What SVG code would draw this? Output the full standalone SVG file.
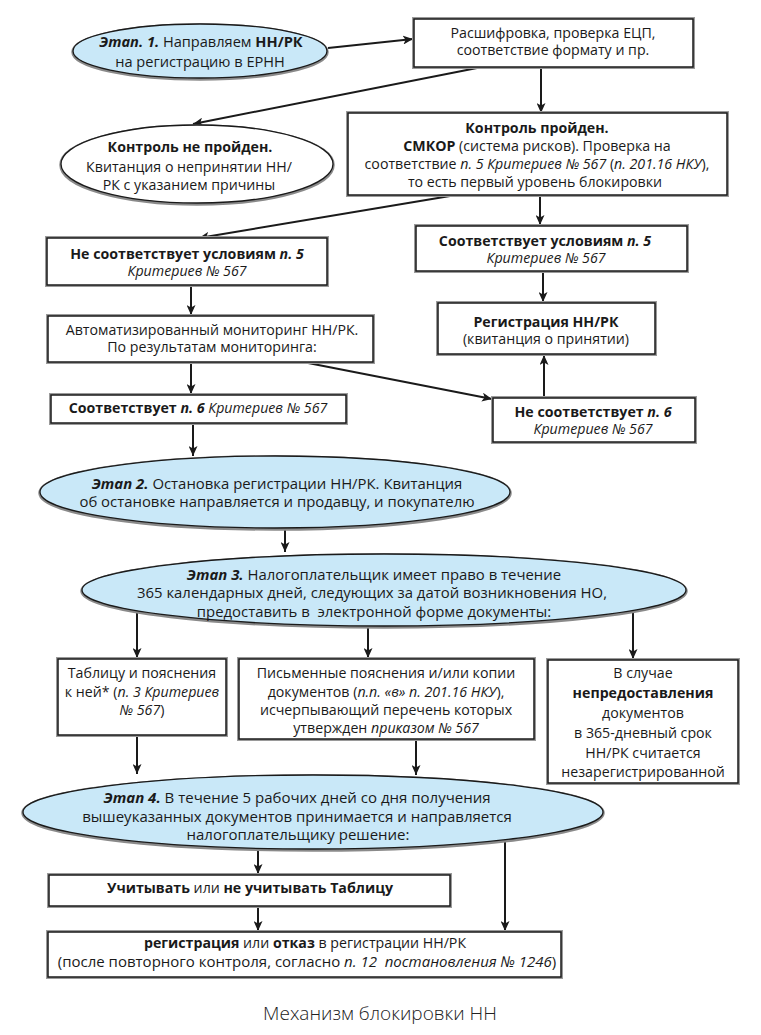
<svg xmlns="http://www.w3.org/2000/svg" width="761" height="1035" viewBox="0 0 761 1035">
<style>
text{font-family:"Open Sans","Noto Sans","DejaVu Sans",sans-serif;font-size:14.2px;fill:#1a1a1a;text-anchor:middle}
.f1{font-size:14.6px}
.f2{font-size:14.9px}
.f3{font-size:15px}
.b{font-weight:bold}
.i{font-style:italic}
.bi{font-weight:bold;font-style:italic}
.bx{fill:#fff;stroke:#1a1a1a;stroke-width:1.5}
.bxs{fill:none;stroke:#9a9a9a;stroke-width:4}
.el{fill:#c9e8f8;stroke:#1a1a1a;stroke-width:1.3}
.elw{fill:#fff;stroke:#1a1a1a;stroke-width:1.3}
.els{fill:none;stroke:#8a8a8a;stroke-width:3.5}
.cn{fill:none;stroke:#1a1a1a;stroke-width:2;marker-end:url(#ah)}
.cap{font-size:19px;font-weight:300;fill:#222}
</style>
<defs>
<marker id="ah" viewBox="0 0 10 9" refX="10" refY="4.5" markerWidth="10" markerHeight="9" orient="auto" markerUnits="userSpaceOnUse">
<path d="M0,0 L10,4.5 L0,9 L2.5,4.5 z" fill="#1a1a1a"/>
</marker>
</defs>
<rect width="761" height="1035" fill="#fff"/>

<g id="connectors">
<line class="cn" x1="328" y1="48" x2="413" y2="39"/>
<line class="cn" x1="541" y1="68" x2="541" y2="113"/>
<line class="cn" x1="477" y1="68" x2="193" y2="124"/>
<line class="cn" x1="450" y1="196" x2="199" y2="238"/>
<line class="cn" x1="540" y1="196" x2="540" y2="225"/>
<line class="cn" x1="543" y1="272" x2="543" y2="302"/>
<line class="cn" x1="544" y1="397" x2="544" y2="355"/>
<line class="cn" x1="191" y1="286" x2="191" y2="315"/>
<line class="cn" x1="303" y1="362" x2="492" y2="399"/>
<line class="cn" x1="191" y1="363" x2="191" y2="394"/>
<line class="cn" x1="193" y1="424" x2="193" y2="456"/>
<line class="cn" x1="285" y1="528" x2="285" y2="552"/>
<line class="cn" x1="137" y1="613" x2="137" y2="658"/>
<line class="cn" x1="368" y1="626" x2="368" y2="658"/>
<line class="cn" x1="633" y1="612" x2="633" y2="659"/>
<line class="cn" x1="137" y1="736" x2="137" y2="774"/>
<line class="cn" x1="416" y1="739" x2="416" y2="775"/>
<line class="cn" x1="258" y1="850" x2="258" y2="874"/>
<line class="cn" x1="258" y1="907" x2="258" y2="931"/>
<line class="cn" x1="505" y1="840" x2="505" y2="931"/>
</g>

<g id="etap1">
<ellipse class="els" cx="200" cy="52" rx="127" ry="27"/>
<ellipse class="el" cx="200" cy="51" rx="127" ry="27"/>
<text class="f1" x="201" y="47"><tspan class="bi">Этап. 1.</tspan> Направляем <tspan class="b">НН/РК</tspan></text>
<text class="f1" x="200" y="67">на регистрацию в ЕРНН</text>
</g>

<g id="decode">
<rect class="bxs" x="414" y="19" width="279" height="48"/>
<rect class="bx" x="414" y="19" width="279" height="48"/>
<text x="553" y="38">Расшифровка, проверка ЕЦП,</text>
<text x="553" y="55">соответствие формату и пр.</text>
</g>

<g id="fail">
<ellipse class="els" cx="197" cy="165" rx="136" ry="39"/>
<ellipse class="elw" cx="197" cy="164" rx="136" ry="39"/>
<text x="190" y="152" class="b">Контроль не пройден.</text>
<text x="189" y="172">Квитанция о непринятии НН/</text>
<text x="189" y="190">РК с указанием причины</text>
</g>

<g id="passed">
<rect class="bxs" x="348" y="113" width="379" height="82"/>
<rect class="bx" x="348" y="113" width="379" height="82"/>
<text x="537" y="133" class="b">Контроль пройден.</text>
<text x="537" y="151"><tspan class="b">СМКОР</tspan> (система рисков). Проверка на</text>
<text x="537" y="169">соответствие <tspan class="i">п. 5 Критериев № 567</tspan> (<tspan class="i">п. 201.16 НКУ</tspan>),</text>
<text x="535" y="187">то есть первый уровень блокировки</text>
</g>

<g id="no5">
<rect class="bxs" x="47" y="238" width="280" height="47"/>
<rect class="bx" x="47" y="238" width="280" height="47"/>
<text x="187" y="259"><tspan class="b">Не соответствует условиям </tspan><tspan class="bi">п. 5</tspan></text>
<text x="187" y="276" class="i">Критериев № 567</text>
</g>

<g id="yes5">
<rect class="bxs" x="416" y="226" width="271" height="45"/>
<rect class="bx" x="416" y="226" width="271" height="45"/>
<text x="545" y="246"><tspan class="b">Соответствует условиям </tspan><tspan class="bi">п. 5</tspan></text>
<text x="546" y="263" class="i">Критериев № 567</text>
</g>

<g id="reg">
<rect class="bxs" x="438" y="303" width="217" height="51"/>
<rect class="bx" x="438" y="303" width="217" height="51"/>
<text x="546" y="327" class="b">Регистрация НН/РК</text>
<text x="546" y="344">(квитанция о принятии)</text>
</g>

<g id="monitor">
<rect class="bxs" x="48" y="316" width="325" height="46"/>
<rect class="bx" x="48" y="316" width="325" height="46"/>
<text x="212" y="335">Автоматизированный мониторинг НН/РК.</text>
<text x="212" y="352">По результатам мониторинга:</text>
</g>

<g id="yes6">
<rect class="bxs" x="51" y="395" width="295" height="28"/>
<rect class="bx" x="51" y="395" width="295" height="28"/>
<text x="198" y="413"><tspan class="b">Соответствует </tspan><tspan class="bi">п. 6</tspan><tspan class="i"> Критериев № 567</tspan></text>
</g>

<g id="no6">
<rect class="bxs" x="493" y="398" width="202" height="44"/>
<rect class="bx" x="493" y="398" width="202" height="44"/>
<text x="593" y="417"><tspan class="b">Не соответствует </tspan><tspan class="bi">п. 6</tspan></text>
<text x="593" y="434" class="i">Критериев № 567</text>
</g>

<g id="etap2">
<ellipse class="els" cx="275" cy="493" rx="235" ry="36"/>
<ellipse class="el" cx="275" cy="492" rx="235" ry="36"/>
<text class="f2" x="277" y="489"><tspan class="bi">Этап 2.</tspan> Остановка регистрации НН/РК. Квитанция</text>
<text class="f2" x="277" y="507">об остановке направляется и продавцу, и покупателю</text>
</g>

<g id="etap3">
<ellipse class="els" cx="384" cy="591" rx="302" ry="36"/>
<ellipse class="el" cx="384" cy="590" rx="302" ry="36"/>
<text class="f2" x="374" y="580"><tspan class="bi">Этап 3.</tspan> Налогоплательщик имеет право в течение</text>
<text class="f2" x="372" y="598">365 календарных дней, следующих за датой возникновения НО,</text>
<text class="f2" x="374" y="617" xml:space="preserve">предоставить в  электронной форме документы:</text>
</g>

<g id="table">
<rect class="bxs" x="58" y="659" width="168" height="76"/>
<rect class="bx" x="58" y="659" width="168" height="76"/>
<text x="142" y="678">Таблицу и пояснения</text>
<text x="142" y="697">к ней* (<tspan class="i">п. 3 Критериев</tspan></text>
<text x="142" y="715"><tspan class="i">№ 567</tspan>)</text>
</g>

<g id="letters">
<rect class="bxs" x="239" y="659" width="295" height="80"/>
<rect class="bx" x="239" y="659" width="295" height="80"/>
<text x="386" y="678">Письменные пояснения и/или копии</text>
<text x="386" y="697">документов (<tspan class="i">п.п. «в» п. 201.16 НКУ</tspan>),</text>
<text x="386" y="715">исчерпывающий перечень которых</text>
<text x="386" y="733">утвержден <tspan class="i">приказом № 567</tspan></text>
</g>

<g id="nodocs">
<rect class="bxs" x="548" y="660" width="190" height="123"/>
<rect class="bx" x="548" y="660" width="190" height="123"/>
<text x="643" y="678">В случае</text>
<text x="643" y="698" class="b">непредоставления</text>
<text x="643" y="718">документов</text>
<text x="643" y="738">в 365-дневный срок</text>
<text x="643" y="758">НН/РК считается</text>
<text x="643" y="777">незарегистрированной</text>
</g>

<g id="etap4">
<ellipse class="els" cx="313" cy="813" rx="290" ry="37"/>
<ellipse class="el" cx="313" cy="812" rx="290" ry="37"/>
<text class="f3" x="297" y="803"><tspan class="bi">Этап 4.</tspan> В течение 5 рабочих дней со дня получения</text>
<text class="f3" x="297" y="822">вышеуказанных документов принимается и направляется</text>
<text class="f3" x="298" y="840">налогоплательщику решение:</text>
</g>

<g id="account">
<rect class="bxs" x="49" y="875" width="401" height="31"/>
<rect class="bx" x="49" y="875" width="401" height="31"/>
<text x="250" y="893"><tspan class="b">Учитывать</tspan> или <tspan class="b">не учитывать Таблицу</tspan></text>
</g>

<g id="result">
<rect class="bxs" x="48" y="932" width="513" height="45"/>
<rect class="bx" x="48" y="932" width="513" height="45"/>
<text x="305" y="948"><tspan class="b">регистрация</tspan> или <tspan class="b">отказ</tspan> в регистрации НН/РК</text>
<text class="f3" x="307" y="967" xml:space="preserve">(после повторного контроля, согласно <tspan class="i">п. 12  постановления № 1246</tspan>)</text>
</g>

<text class="cap" x="380" y="1020">Механизм блокировки НН</text>
</svg>
